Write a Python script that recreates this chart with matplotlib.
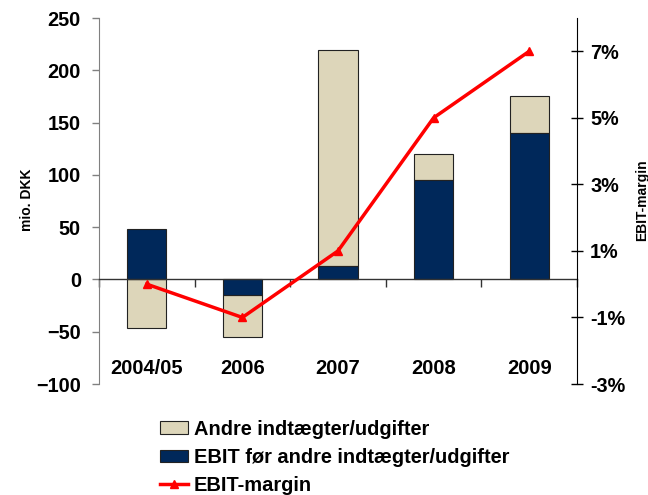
import numpy as np
import matplotlib
matplotlib.use("Agg")
import matplotlib.pyplot as plt
from matplotlib.ticker import FuncFormatter

plt.rcParams['font.family'] = ['Liberation Sans', 'DejaVu Sans']
plt.rcParams['font.weight'] = 'bold'

# data (mio. DKK and %)
years = ['2004/05', '2006', '2007', '2008', '2009']
ebit = [48, -15, 13, 95, 140]
andre = [-46, -40, 206, 25, 35]
margin = [0.0, -1.0, 1.0, 5.0, 7.0]

c_andre = '#DDD6BA'
c_ebit = '#00285A'

x = np.arange(len(years))
ebit = np.array(ebit)
andre = np.array(andre)
bottom_andre = np.where(np.sign(andre) == np.sign(ebit), ebit, 0)

W, H = 648, 495
fig = plt.figure(figsize=(W / 100, H / 100), dpi=100)
ax = fig.add_axes([99 / W, 1 - 384 / H, 478 / W, 366 / H])

w = 0.41
b1 = ax.bar(x, andre, w, bottom=bottom_andre, color=c_andre, edgecolor='#222222',
            linewidth=0.8, label='Andre indtægter/udgifter', zorder=2)
b2 = ax.bar(x, ebit, w, color=c_ebit, edgecolor='#222222', linewidth=0.8,
            label='EBIT før andre indtægter/udgifter', zorder=2)

ax.set_xlim(-0.5, len(years) - 0.5)
ax.set_ylim(-100, 250)
ax.set_yticks(np.arange(-100, 251, 50))
ax.tick_params(axis='y', direction='out', length=5, width=1, color='#808080',
               labelsize=14.3, pad=8)
for lab in ax.get_yticklabels():
    lab.set_fontweight('bold')

ax.spines['top'].set_visible(False)
ax.spines['right'].set_visible(False)
ax.spines['left'].set_color('#808080')
ax.spines['bottom'].set_position(('data', 0))
ax.spines['bottom'].set_color('#333333')
ax.spines['bottom'].set_linewidth(1)
ax.spines['bottom'].set_zorder(3)

ax.set_xticks(x)
ax.set_xticklabels(years, fontsize=14.5, fontweight='bold')
ax.set_xticks(np.arange(-0.5, len(years), 1.0), minor=True)
ax.tick_params(axis='x', which='major', length=0, pad=57)
ax.tick_params(axis='x', which='minor', direction='out', length=6, width=1,
               color='#333333')

ax2 = ax.twinx()
ax2.set_ylim(-3, 8)
ax2.set_yticks(np.arange(-3, 8, 2))
ax2.yaxis.set_major_formatter(FuncFormatter(lambda v, p: f'{v:.0f}%'))
ax2.tick_params(axis='y', direction='inout', length=9, width=1, labelsize=14.3, pad=5)
for lab in ax2.get_yticklabels():
    lab.set_fontweight('bold')
for s in ['top', 'left', 'bottom']:
    ax2.spines[s].set_visible(False)
ax2.spines['right'].set_color('black')
ln, = ax2.plot(x, margin, color='#FF0000', linewidth=2.5, marker='^', markersize=6,
               label='EBIT-margin', zorder=4)

fig.text(27 / W, 1 - 200 / H, 'mio. DKK', rotation=90, ha='center', va='center',
         fontsize=10, fontweight='bold')
fig.text(642 / W, 1 - 200 / H, 'EBIT-margin', rotation=90, ha='center', va='center',
         fontsize=10, fontweight='bold')

fig.legend([b1, b2, ln], [b1.get_label(), b2.get_label(), ln.get_label()],
           loc='upper left', bbox_to_anchor=(160 / W, 0.152), frameon=False,
           prop={'size': 14.4, 'weight': 'bold'}, handlelength=1.4,
           handleheight=0.6, labelspacing=0.46, handletextpad=0.3,
           borderaxespad=0, borderpad=0)

fig.savefig('out.png', dpi=100)
